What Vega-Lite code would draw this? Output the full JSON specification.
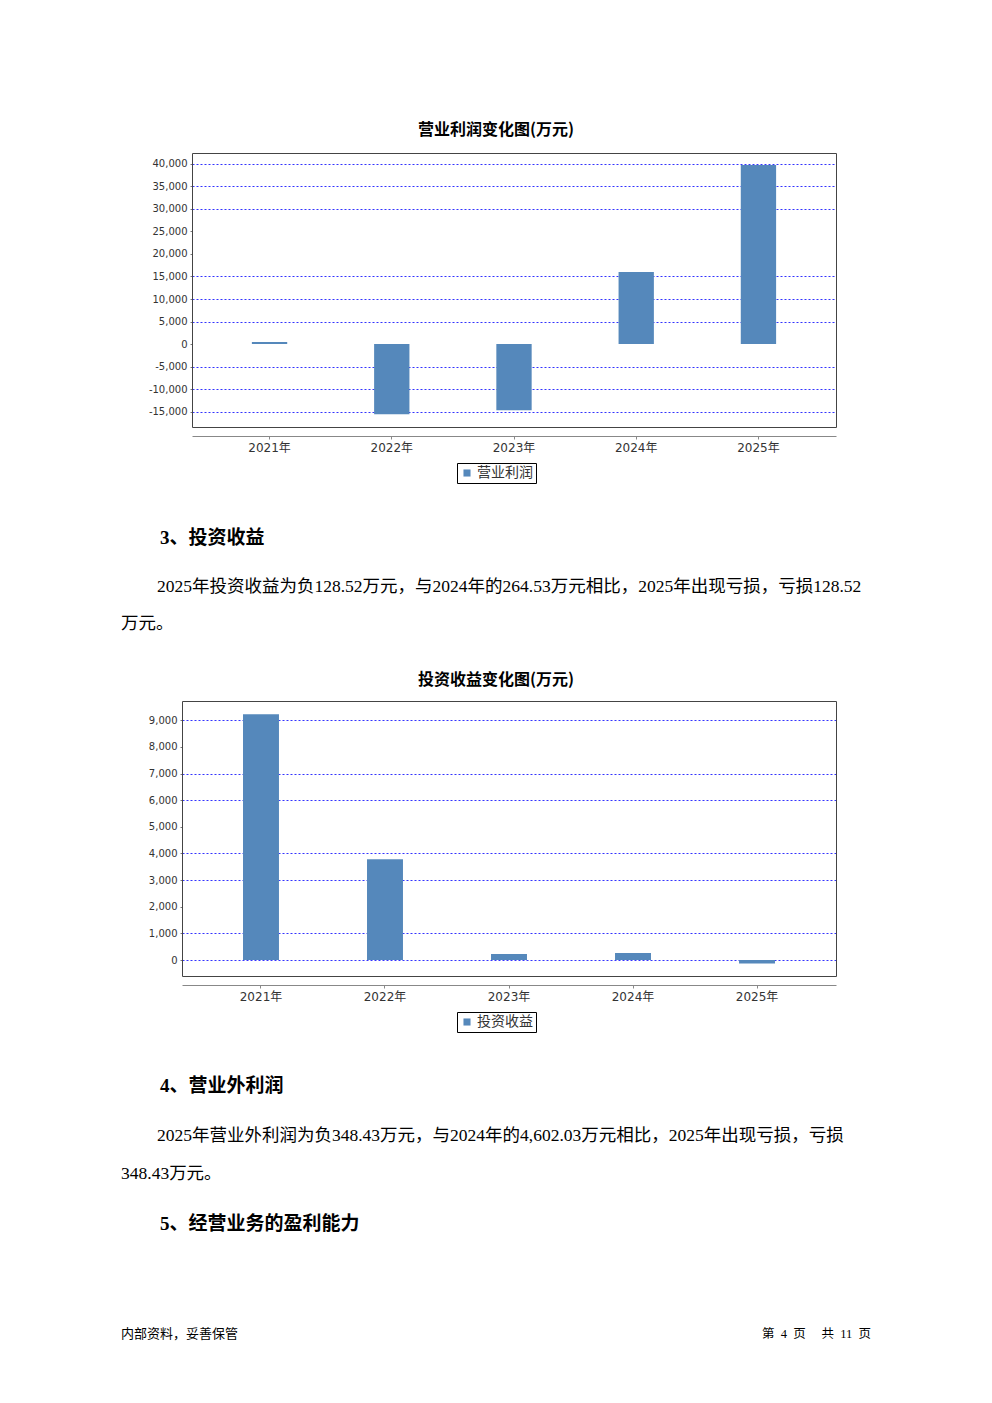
{
  "$schema": "https://vega.github.io/schema/vega-lite/v6.json",
  "background": "white",
  "padding": {"left": 121, "top": 122, "right": 0, "bottom": 0},
  "columns": 1,
  "align": "none",
  "spacing": 0,
  "resolve": {"scale": {"color": "independent"}},
  "config": {
    "font": "Noto Sans CJK SC",
    "view": {"stroke": null}
  },
  "concat": [
    {
      "width": 715,
      "height": 274,
      "title": {"text": "营业利润变化图(万元)", "font": "Noto Sans CJK SC", "fontSize": 16, "fontWeight": "bold", "color": "#000", "anchor": "middle", "frame": "group", "dx": 17.5, "offset": 15, "baseline": "top"},
      "data": {"values": [
        {"year": "2021年", "profit": 450, "series": "营业利润"},
        {"year": "2022年", "profit": -15600, "series": "营业利润"},
        {"year": "2023年", "profit": -14700, "series": "营业利润"},
        {"year": "2024年", "profit": 16000, "series": "营业利润"},
        {"year": "2025年", "profit": 39800, "series": "营业利润"}
      ]},
      "resolve": {"axis": {"x": "independent", "y": "independent"}},
      "layer": [
        {
          "mark": {"type": "bar"},
          "encoding": {
            "x": {"field": "year", "type": "nominal", "sort": null,
              "scale": {"range": [71, 715], "paddingInner": 0.711, "paddingOuter": 0.49},
              "axis": {"title": null, "orient": "bottom", "labelAngle": 0, "offset": 9, "domainColor": "#888", "tickColor": "#888", "tickSize": 3, "labelPadding": 3, "labelFont": "DejaVu Sans, Noto Sans CJK SC", "labelFontSize": 12, "labelColor": "#333", "grid": false}},
            "y": {"field": "profit", "type": "quantitative",
              "scale": {"domain": [-18444, 42444], "nice": false, "zero": false},
              "axis": {"title": null, "orient": "left", "offset": -71, "values": [-15000, -10000, -5000, 0, 5000, 10000, 15000, 20000, 25000, 30000, 35000, 40000], "format": ",.0f", "labelExpr": "replace(datum.label, '\u2212', '-')", "labelFont": "DejaVu Sans", "labelFontSize": 10, "labelColor": "#333", "labelPadding": 3, "tickSize": 2, "tickColor": "#777", "domain": true, "domainColor": "#444", "domainWidth": 1, "grid": true, "gridColor": "#3333ff", "gridDash": [2, 2], "gridWidth": 1,
                "gridOpacity": {"condition": {"test": "datum.value === 0 || datum.value === 20000 || datum.value === 25000", "value": 0}, "value": 1}}},
            "color": {"field": "series", "type": "nominal", "scale": {"range": ["#5588bb"]},
              "legend": {"title": null, "orient": "none", "legendX": 336, "legendY": 310, "direction": "horizontal", "strokeColor": "#000", "fillColor": "#fff", "padding": 3, "symbolType": "square", "symbolSize": 50, "symbolStrokeWidth": 0, "symbolOpacity": 1, "labelFont": "Noto Sans CJK SC", "labelFontSize": 14, "labelColor": "#333", "labelOffset": 3}}
          }
        },
        {
          "mark": {"type": "bar", "opacity": 0},
          "encoding": {
            "x": {"field": "year", "type": "nominal", "sort": null,
              "axis": {"title": null, "orient": "top", "labels": false, "ticks": false, "grid": false, "domain": true, "domainColor": "#444", "domainWidth": 1}},
            "y": {"field": "profit", "type": "quantitative",
              "axis": {"title": null, "orient": "right", "labels": false, "ticks": false, "grid": false, "domain": true, "domainColor": "#444", "domainWidth": 1}}
          }
        },
        {
          "mark": {"type": "bar", "opacity": 0},
          "encoding": {
            "x": {"field": "year", "type": "nominal", "sort": null,
              "axis": {"title": null, "orient": "bottom", "offset": 0, "labels": false, "ticks": false, "grid": false, "domain": true, "domainColor": "#444", "domainWidth": 1}},
            "y": {"field": "profit", "type": "quantitative", "axis": null}
          }
        }
      ]
    },
    {
      "width": 1, "height": 77,
      "data": {"values": [{"text": "3、投资收益"}]},
      "mark": {"type": "text", "align": "left", "baseline": "middle", "dx": 38.5, "dy": 15.5, "font": "Liberation Serif, Noto Sans CJK SC", "fontSize": 19, "fontWeight": "bold", "color": "#000"},
      "encoding": {"text": {"field": "text"}}
    },
    {
      "width": 1, "height": 43.5,
      "data": {"values": [{"text": "2025年投资收益为负128.52万元，与2024年的264.53万元相比，2025年出现亏损，亏损128.52"}]},
      "mark": {"type": "text", "align": "left", "baseline": "middle", "dx": 35.5, "dy": 4.25, "font": "Liberation Serif, Noto Sans CJK SC", "fontSize": 17.5, "color": "#000"},
      "encoding": {"text": {"field": "text"}}
    },
    {
      "width": 1, "height": 66.5,
      "data": {"values": [{"text": "万元。"}]},
      "mark": {"type": "text", "align": "left", "baseline": "middle", "dx": -0.5, "dy": -14.75, "font": "Liberation Serif, Noto Sans CJK SC", "fontSize": 17.5, "color": "#000"},
      "encoding": {"text": {"field": "text"}}
    },
    {
      "width": 715,
      "height": 275,
      "title": {"text": "投资收益变化图(万元)", "font": "Noto Sans CJK SC", "fontSize": 16, "fontWeight": "bold", "color": "#000", "anchor": "middle", "frame": "group", "dx": 17.5, "offset": 13, "baseline": "top"},
      "data": {"values": [
        {"year": "2021年", "income": 9226, "series": "投资收益"},
        {"year": "2022年", "income": 3781, "series": "投资收益"},
        {"year": "2023年", "income": 230, "series": "投资收益"},
        {"year": "2024年", "income": 264.53, "series": "投资收益"},
        {"year": "2025年", "income": -128.52, "series": "投资收益"}
      ]},
      "resolve": {"axis": {"x": "independent", "y": "independent"}},
      "layer": [
        {
          "mark": {"type": "bar"},
          "encoding": {
            "x": {"field": "year", "type": "nominal", "sort": null,
              "scale": {"range": [61, 715], "paddingInner": 0.71, "paddingOuter": 0.492},
              "axis": {"title": null, "orient": "bottom", "labelAngle": 0, "offset": 9, "domainColor": "#888", "tickColor": "#888", "tickSize": 3, "labelPadding": 3, "labelFont": "DejaVu Sans, Noto Sans CJK SC", "labelFontSize": 12, "labelColor": "#333", "grid": false}},
            "y": {"field": "income", "type": "quantitative",
              "scale": {"domain": [-600, 9725], "nice": false, "zero": false},
              "axis": {"title": null, "orient": "left", "offset": -61, "values": [0, 1000, 2000, 3000, 4000, 5000, 6000, 7000, 8000, 9000], "format": ",.0f", "labelExpr": "replace(datum.label, '\u2212', '-')", "labelFont": "DejaVu Sans", "labelFontSize": 10, "labelColor": "#333", "labelPadding": 3, "tickSize": 2, "tickColor": "#777", "domain": true, "domainColor": "#444", "domainWidth": 1, "grid": true, "gridColor": "#3333ff", "gridDash": [2, 2], "gridWidth": 1,
                "gridOpacity": {"condition": {"test": "datum.value === 2000 || datum.value === 5000 || datum.value === 8000", "value": 0}, "value": 1}}},
            "color": {"field": "series", "type": "nominal", "scale": {"range": ["#5588bb"]},
              "legend": {"title": null, "orient": "none", "legendX": 336, "legendY": 311, "direction": "horizontal", "strokeColor": "#000", "fillColor": "#fff", "padding": 3, "symbolType": "square", "symbolSize": 50, "symbolStrokeWidth": 0, "symbolOpacity": 1, "labelFont": "Noto Sans CJK SC", "labelFontSize": 14, "labelColor": "#333", "labelOffset": 3}}
          }
        },
        {
          "mark": {"type": "bar", "opacity": 0},
          "encoding": {
            "x": {"field": "year", "type": "nominal", "sort": null,
              "axis": {"title": null, "orient": "top", "labels": false, "ticks": false, "grid": false, "domain": true, "domainColor": "#444", "domainWidth": 1}},
            "y": {"field": "income", "type": "quantitative",
              "axis": {"title": null, "orient": "right", "labels": false, "ticks": false, "grid": false, "domain": true, "domainColor": "#444", "domainWidth": 1}}
          }
        },
        {
          "mark": {"type": "bar", "opacity": 0},
          "encoding": {
            "x": {"field": "year", "type": "nominal", "sort": null,
              "axis": {"title": null, "orient": "bottom", "offset": 0, "labels": false, "ticks": false, "grid": false, "domain": true, "domainColor": "#444", "domainWidth": 1}},
            "y": {"field": "income", "type": "quantitative", "axis": null}
          }
        }
      ]
    },
    {
      "width": 1, "height": 78,
      "data": {"values": [{"text": "4、营业外利润"}]},
      "mark": {"type": "text", "align": "left", "baseline": "middle", "dx": 38.5, "dy": 14, "font": "Liberation Serif, Noto Sans CJK SC", "fontSize": 19, "fontWeight": "bold", "color": "#000"},
      "encoding": {"text": {"field": "text"}}
    },
    {
      "width": 1, "height": 43,
      "data": {"values": [{"text": "2025年营业外利润为负348.43万元，与2024年的4,602.03万元相比，2025年出现亏损，亏损"}]},
      "mark": {"type": "text", "align": "left", "baseline": "middle", "dx": 35.5, "dy": 3.5, "font": "Liberation Serif, Noto Sans CJK SC", "fontSize": 17.5, "color": "#000"},
      "encoding": {"text": {"field": "text"}}
    },
    {
      "width": 1, "height": 44,
      "data": {"values": [{"text": "348.43万元。"}]},
      "mark": {"type": "text", "align": "left", "baseline": "middle", "dx": -0.5, "dy": -2, "font": "Liberation Serif, Noto Sans CJK SC", "fontSize": 17.5, "color": "#000"},
      "encoding": {"text": {"field": "text"}}
    },
    {
      "width": 1, "height": 63,
      "data": {"values": [{"text": "5、经营业务的盈利能力"}]},
      "mark": {"type": "text", "align": "left", "baseline": "middle", "dx": 38.5, "dy": -5.5, "font": "Liberation Serif, Noto Sans CJK SC", "fontSize": 19, "fontWeight": "bold", "color": "#000"},
      "encoding": {"text": {"field": "text"}}
    },
    {
      "width": 750,
      "height": 146,
      "layer": [
        {
          "data": {"values": [{"text": "内部资料，妥善保管"}]},
          "mark": {"type": "text", "align": "left", "baseline": "middle", "font": "Liberation Serif, Noto Sans CJK SC", "fontSize": 13, "color": "#000"},
          "encoding": {
            "x": {"field": "text", "type": "ordinal", "scale": {"type": "point", "padding": 0}, "axis": null},
            "text": {"field": "text"}
          }
        },
        {
          "data": {"values": [{"text": "第\u00a0\u00a04\u00a0\u00a0页\u00a0\u00a0\u00a0\u00a0\u00a0共\u00a0\u00a011\u00a0\u00a0页"}]},
          "mark": {"type": "text", "align": "right", "baseline": "middle", "font": "Liberation Serif, Noto Sans CJK SC", "fontSize": 12.5, "color": "#000"},
          "encoding": {
            "x": {"field": "text", "type": "ordinal", "scale": {"type": "point", "padding": 0}, "axis": null},
            "text": {"field": "text"}
          }
        }
      ]
    }
  ]
}
